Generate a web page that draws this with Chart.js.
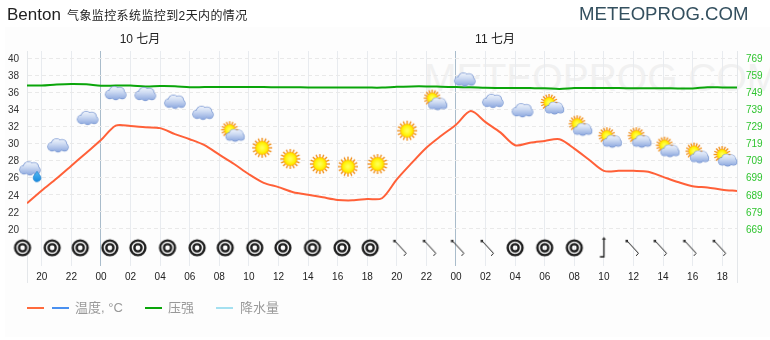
<!DOCTYPE html>
<html>
<head>
<meta charset="utf-8">
<script src="https://cdn.jsdelivr.net/npm/chart.js@4"></script>
<style>
html, body { margin: 0; padding: 0; background: #fff; }
body { width: 770px; height: 340px; position: relative; overflow: hidden; font-family: "Liberation Sans", "Noto Sans CJK SC", sans-serif; }
#panel { position: absolute; left: 5px; top: 27px; width: 765px; height: 310px; background: #fdfdfd; }
canvas { position: absolute; left: 0; top: 0; }
.label { position: absolute; white-space: nowrap; line-height: 1; }
#city { left: 7px; top: 6px; font-size: 17px; color: #222; }
#subtitle { left: 67px; top: 10px; font-size: 12px; color: #222; letter-spacing: 0.4px; }
#brand { left: 579px; top: 5px; font-size: 18.6px; color: #34505f; }
#watermark { left: 424px; top: 58px; width: 346px; overflow: hidden; font-size: 39px; color: #f1f1f1; }
.day { top: 33px; font-size: 12px; color: #222; transform: translateX(-50%); }
.swatch { position: absolute; top: 307px; width: 17px; height: 2px; }
.legend { top: 301px; font-size: 13px; color: #999; }
</style>
</head>
<body>
<div id="panel"></div>
<div class="label" id="watermark">METEOPROG.COM</div>
<canvas id="chart" width="770" height="340"></canvas>
<div class="label" id="city">Benton</div>
<div class="label" id="subtitle">气象监控系统监控到2天内的情况</div>
<div class="label" id="brand">METEOPROG.COM</div>
<div class="label day" style="left:140px">10 七月</div>
<div class="label day" style="left:495px">11 七月</div>
<div class="swatch" style="left:27px;background:#ff6a3c"></div>
<div class="swatch" style="left:52px;background:#4a90f0"></div>
<div class="label legend" style="left:75px">温度, °C</div>
<div class="swatch" style="left:145px;background:#0aa50a"></div>
<div class="label legend" style="left:168px">压强</div>
<div class="swatch" style="left:216px;background:#a4e0f0"></div>
<div class="label legend" style="left:240px">降水量</div>
<script>
// hours counted from 19:00 on the first day
const hours = [0,1,2,3,4,5,6,7,8,9,10,11,12,13,14,15,16,17,18,19,20,21,22,23,24,25,26,27,28,29,30,31,32,33,34,35,36,37,38,39,40,41,42,43,44,45,46,47,48]
const temperature = [23.0,24.5,25.9,27.4,28.9,30.4,32.1,32.05,31.9,31.8,31.1,30.5,29.8,28.7,27.6,26.4,25.4,24.9,24.3,24.0,23.7,23.4,23.35,23.5,23.6,25.8,27.7,29.5,30.9,32.2,33.8,32.5,31.3,29.8,30.1,30.3,30.5,29.4,28.1,26.8,26.8,26.8,26.7,26.1,25.5,25.0,24.85,24.6,24.45]
const pressure = [752.9,752.9,753.5,753.8,753.6,752.8,752.9,752.9,752.4,752.6,752.5,751.9,752.0,752.0,752.0,752.0,752.0,751.9,751.9,751.8,751.8,751.8,751.7,751.7,751.7,752.2,752.4,752.4,752.2,752.0,751.9,751.6,751.5,751.5,751.4,751.3,750.9,751.4,751.4,751.4,751.4,751.3,751.3,751.3,751.2,751.2,751.9,751.8,751.7]
const xTickHours = [1,3,5,7,9,11,13,15,17,19,21,23,25,27,29,31,33,35,37,39,41,43,45,47]
const xTickLabels = ['20','22','00','02','04','06','08','10','12','14','16','18','20','22','00','02','04','06','08','10','12','14','16','18']
const midnightHours = [5,29]
const tempTicks = [20,22,24,26,28,30,32,34,36,38,40]
const pressureTicks = [669,679,689,699,709,719,729,739,749,759,769]

const iconHours = [0.2,2.1,4.1,6.0,8.0,10.0,11.9,13.9,15.9,17.8,19.8,21.7,23.7,25.7,27.6,29.6,31.5,33.5,35.5,37.4,39.4,41.4,43.3,45.3,47.2]
const iconLevels = [27.1,29.8,33.0,35.9,35.8,34.9,33.6,31.2,29.5,28.2,27.6,27.3,27.6,31.5,34.9,37.5,35.0,33.9,34.4,31.9,30.5,30.5,29.4,28.7,28.3]
const iconKinds = ['rain','cloud','cloud','cloud','cloud','cloud','cloud','partly','sun','sun','sun','sun','sun','sun','partly','cloud','cloud','cloud','partly','partly','partly','partly','partly','partly','partly']

const windHours = [-0.3,1.7,3.6,5.6,7.5,9.5,11.5,13.4,15.4,17.3,19.3,21.3,23.2,25.2,27.2,29.1,31.1,33.0,35.0,37.0,38.9,40.9,42.8,44.8,46.8]
const windLevel = 17.8
const windKinds = ['calm','calm','calm','calm','calm','calm','calm','calm','calm','calm','calm','calm','calm','nw','nw','nw','nw','calm','calm','calm','n','nw','nw','nw','nw']

function newIcon(w, h){
    const c = document.createElement('canvas')
    c.width = w
    c.height = h
    return c
}

function drawCloud(ctx, cx, cy, s){
    const blobs = [[-6,1.5,4],[-1.5,-1.5,4.8],[4,-1,4.5],[6.5,2,3.5],[0,2.5,4]]
    ctx.fillStyle = '#7392cf'
    blobs.forEach(b => { ctx.beginPath(); ctx.arc(cx+b[0]*s, cy+b[1]*s, (b[2]+0.7)*s, 0, Math.PI*2); ctx.fill() })
    const g = ctx.createLinearGradient(0, cy-7*s, 0, cy+7*s)
    g.addColorStop(0, '#f4f7fd')
    g.addColorStop(0.4, '#cfdcf3')
    g.addColorStop(1, '#8aa6de')
    ctx.fillStyle = g
    blobs.forEach(b => { ctx.beginPath(); ctx.arc(cx+b[0]*s, cy+b[1]*s, b[2]*s, 0, Math.PI*2); ctx.fill() })
}

function drawSun(ctx, cx, cy, r){
    ctx.strokeStyle = '#f08a10'
    ctx.lineWidth = 1.3
    for(let i=0; i<16; i++){
        const a = i*Math.PI/8
        ctx.beginPath()
        ctx.moveTo(cx+Math.cos(a)*(r-1), cy+Math.sin(a)*(r-1))
        ctx.lineTo(cx+Math.cos(a)*(r+3), cy+Math.sin(a)*(r+3))
        ctx.stroke()
    }
    const g = ctx.createRadialGradient(cx, cy, 1, cx, cy, r)
    g.addColorStop(0, '#ffff50')
    g.addColorStop(0.7, '#fff000')
    g.addColorStop(1, '#ffb000')
    ctx.fillStyle = g
    ctx.beginPath()
    ctx.arc(cx, cy, r, 0, Math.PI*2)
    ctx.fill()
}

function makeWeatherIcon(kind){
    const c = newIcon(32, 32)
    const ctx = c.getContext('2d')
    if(kind === 'cloud'){
        drawCloud(ctx, 16, 16, 1)
    } else if(kind === 'sun'){
        drawSun(ctx, 16, 16, 7)
    } else if(kind === 'partly'){
        drawSun(ctx, 13, 12.5, 5.5)
        drawCloud(ctx, 18.5, 18, 0.9)
    } else {
        drawCloud(ctx, 16, 16, 1)
        const g = ctx.createLinearGradient(0, 18, 0, 29)
        g.addColorStop(0, '#5cc0f4')
        g.addColorStop(1, '#1a8ce0')
        ctx.fillStyle = g
        ctx.strokeStyle = '#2a86d0'
        ctx.lineWidth = 0.8
        ctx.beginPath()
        ctx.moveTo(23, 19)
        ctx.lineTo(26.5, 24)
        ctx.arc(23, 25.5, 3.8, -0.4, Math.PI+0.4)
        ctx.closePath()
        ctx.fill()
        ctx.stroke()
    }
    return c
}

function makeWindIcon(kind){
    const c = newIcon(30, 30)
    const ctx = c.getContext('2d')
    ctx.strokeStyle = '#1c1c1c'
    ctx.fillStyle = '#333'
    if(kind === 'calm'){
        ctx.lineWidth = 2.4
        ctx.beginPath(); ctx.arc(15, 15, 7.4, 0, Math.PI*2); ctx.stroke()
        ctx.beginPath(); ctx.arc(15, 15, 3.6, 0, Math.PI*2); ctx.stroke()
    } else if(kind === 'n'){
        ctx.lineWidth = 1.3
        ctx.beginPath(); ctx.moveTo(16.5, 5); ctx.lineTo(16.5, 24); ctx.lineTo(12.5, 24); ctx.stroke()
        ctx.beginPath(); ctx.moveTo(16.5, 4); ctx.lineTo(18.5, 7); ctx.lineTo(14.5, 7); ctx.closePath(); ctx.fill()
    } else {
        ctx.lineWidth = 1
        ctx.fillRect(8.5, 7, 2.5, 2.5)
        ctx.beginPath(); ctx.moveTo(10, 8); ctx.lineTo(21.5, 20.5); ctx.lineTo(19, 23); ctx.stroke()
    }
    return c
}

function displayChart(){
    const ctx = document.getElementById('chart')
    // the outer edges run a little below the plot
    const edgeLines = {
        id: 'edgeLines',
        afterDraw(chart){
            const x = chart.scales.x
            const c = chart.ctx
            c.save()
            c.strokeStyle = '#e4e7ea'
            c.beginPath()
            c.moveTo(Math.round(x.left)+0.5, chart.chartArea.bottom)
            c.lineTo(Math.round(x.left)+0.5, chart.chartArea.bottom+17)
            c.moveTo(Math.round(x.right)+0.5, chart.chartArea.bottom)
            c.lineTo(Math.round(x.right)+0.5, chart.chartArea.bottom+17)
            c.stroke()
            c.restore()
        }
    }
    new Chart(ctx, {
        type: 'line',
        plugins: [edgeLines],
        data: {
            datasets: [
                {
                    data: hours.map((h, i) => ({x: h, y: pressure[i]})),
                    yAxisID: 'yp',
                    borderColor: '#0aa50a',
                    borderWidth: 2,
                    pointRadius: 0,
                    tension: 0.3,
                    order: 3
                },
                {
                    data: hours.map((h, i) => ({x: h, y: temperature[i]})),
                    yAxisID: 'y',
                    borderColor: '#ff6038',
                    borderWidth: 2,
                    pointRadius: 0,
                    tension: 0.3,
                    order: 2
                },
                {
                    data: iconHours.map((h, i) => ({x: h, y: iconLevels[i]})),
                    yAxisID: 'y',
                    showLine: false,
                    clip: false,
                    pointRadius: 16,
                    pointStyle: iconKinds.map(makeWeatherIcon),
                    order: 1
                },
                {
                    data: windHours.map(h => ({x: h, y: windLevel})),
                    yAxisID: 'y',
                    showLine: false,
                    clip: false,
                    pointRadius: 15,
                    pointStyle: windKinds.map(makeWindIcon),
                    order: 1
                }
            ]
        },
        options: {
            responsive: false,
            animation: false,
            events: [],
            layout: { padding: { top: 51, bottom: 54, left: 0, right: 0 } },
            plugins: { legend: { display: false }, tooltip: { enabled: false } },
            scales: {
                x: {
                    type: 'linear',
                    min: 0,
                    max: 48,
                    afterBuildTicks: axis => { axis.ticks = xTickHours.map(v => ({value: v})) },
                    afterFit: axis => { axis.height = 20 },
                    grid: {
                        color: c => midnightHours.includes(c.tick.value) ? '#a9bccb' : '#e8ebef',
                        drawTicks: false
                    },
                    border: { color: '#e8ebef', display: false },
                    ticks: {
                        autoSkip: false,
                        maxRotation: 0,
                        padding: 5,
                        color: '#222',
                        font: { family: 'Liberation Sans', size: 10 },
                        callback: v => xTickLabels[xTickHours.indexOf(v)]
                    }
                },
                y: {
                    position: 'left',
                    min: 15.67,
                    max: 40.82,
                    afterBuildTicks: axis => { axis.ticks = tempTicks.map(v => ({value: v})) },
                    afterFit: axis => { axis.width = 27 },
                    grid: { color: '#e9e9e9', drawTicks: false },
                    border: { color: '#e4e7ea', dash: [4, 3] },
                    ticks: {
                        padding: 8,
                        labelOffset: 1,
                        color: '#333',
                        font: { family: 'Liberation Sans', size: 10 }
                    }
                },
                yp: {
                    position: 'right',
                    min: 647.35,
                    max: 773.1,
                    afterBuildTicks: axis => { axis.ticks = pressureTicks.map(v => ({value: v})) },
                    afterFit: axis => { axis.width = 33 },
                    grid: { display: false, drawTicks: false },
                    border: { color: '#e4e7ea' },
                    ticks: {
                        padding: 9,
                        labelOffset: 1,
                        color: '#2fc42f',
                        font: { family: 'Liberation Sans', size: 10 }
                    }
                }
            }
        }
    })
}

window.onload = displayChart
</script>
</body>
</html>
